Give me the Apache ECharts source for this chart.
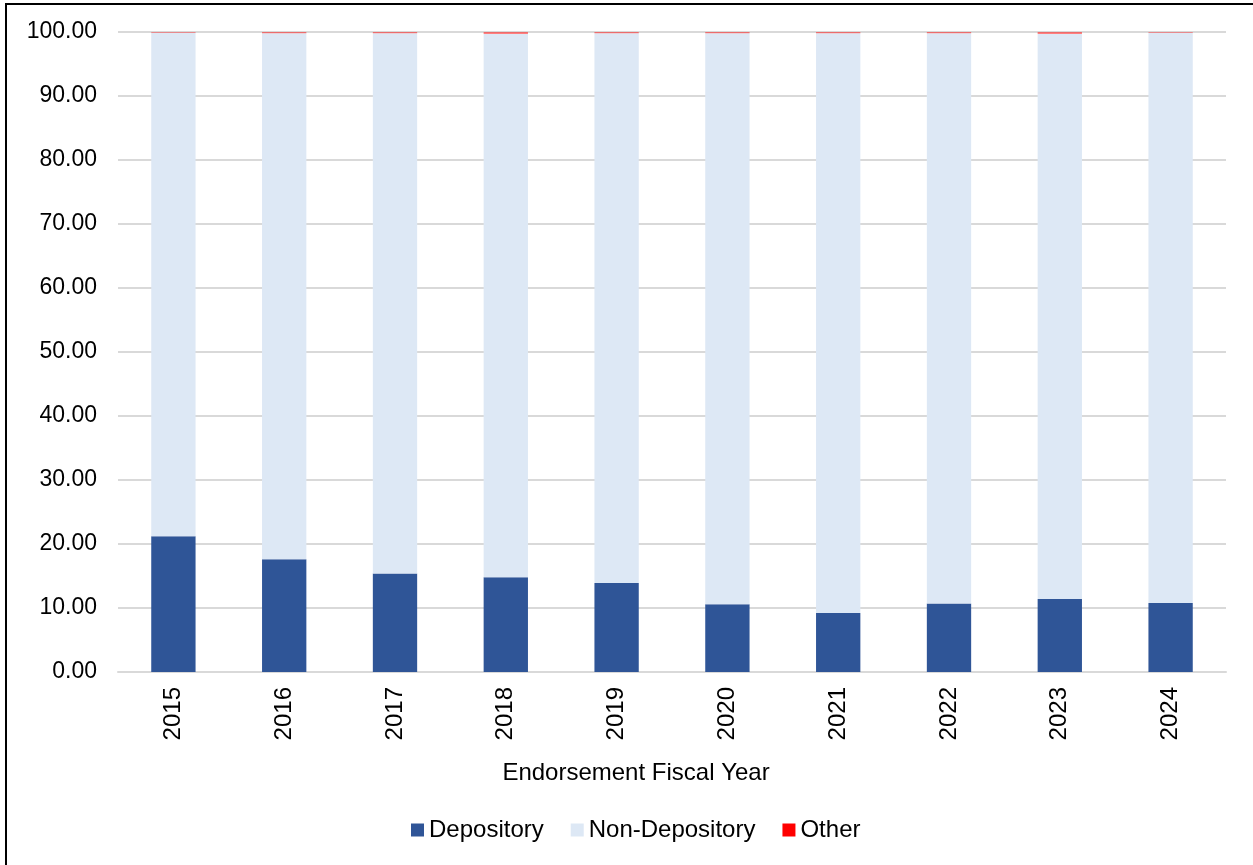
<!DOCTYPE html>
<html>
<head>
<meta charset="utf-8">
<script src="https://cdn.jsdelivr.net/npm/echarts@6/dist/echarts.min.js"></script>
<style>
  html, body { margin: 0; padding: 0; background: #fff; }
  #chart { width: 1253px; height: 865px; }
</style>
</head>
<body>
<div id="chart"></div>
<script>
// Share of endorsements by lender type, per fiscal year (percent)
const years = ['2015', '2016', '2017', '2018', '2019', '2020', '2021', '2022', '2023', '2024'];
const depository = [21.2, 17.6, 15.4, 14.8, 13.9, 10.6, 9.2, 10.7, 11.4, 10.8];
const other = [0.1, 0.2, 0.2, 0.3, 0.2, 0.2, 0.2, 0.2, 0.3, 0.1];
const nonDepository = [78.7, 82.2, 84.4, 84.9, 85.9, 89.2, 90.6, 89.1, 88.3, 89.1];
const yTicks = [0, 10, 20, 30, 40, 50, 60, 70, 80, 90, 100];

const FONT = '"Liberation Sans", Arial, sans-serif';
const chart = echarts.init(document.getElementById('chart'), null, { renderer: 'canvas' });

chart.setOption({
  animation: false,
  backgroundColor: '#ffffff',
  textStyle: { fontFamily: FONT },
  grid: { left: 118, right: 27, top: 32, bottom: 193, containLabel: false },
  graphic: [
    {
      type: 'rect',
      shape: { x: 6, y: 4, width: 1300, height: 900 },
      style: { fill: 'none', stroke: '#000000', lineWidth: 2 },
      silent: true
    },
    {
      type: 'text',
      x: 636,
      y: 773,
      style: {
        text: 'Endorsement Fiscal Year',
        font: '24px ' + FONT,
        fill: '#000000',
        align: 'center',
        verticalAlign: 'middle'
      }
    }
  ],
  legend: {
    bottom: 18,
    left: 406,
    itemWidth: 13,
    itemHeight: 13,
    itemGap: 27,
    icon: 'rect',
    textStyle: { fontSize: 24, color: '#000000', fontFamily: FONT },
    data: [
      { name: 'Depository' },
      { name: 'Non-Depository' },
      { name: 'Other', itemStyle: { color: '#ff0000', opacity: 1 } }
    ]
  },
  xAxis: {
    type: 'category',
    data: years,
    axisLine: { show: true, lineStyle: { color: '#d9d9d9', width: 2 } },
    axisTick: { show: false },
    axisLabel: {
      rotate: 90,
      fontSize: 24,
      color: '#000000',
      fontFamily: FONT,
      margin: 15
    }
  },
  yAxis: {
    type: 'value',
    min: yTicks[0],
    max: yTicks[yTicks.length - 1],
    interval: 10,
    axisLine: { show: false },
    axisTick: { show: false },
    splitLine: { lineStyle: { color: '#d9d9d9', width: 2 } },
    axisLabel: {
      fontSize: 23,
      color: '#000000',
      fontFamily: FONT,
      margin: 21,
      formatter: v => v.toFixed(2)
    }
  },
  series: [
    {
      name: 'Depository',
      type: 'bar',
      stack: 'total',
      barWidth: '40%',
      data: depository,
      itemStyle: { color: '#2f5597' }
    },
    {
      name: 'Non-Depository',
      type: 'bar',
      stack: 'total',
      barWidth: '40%',
      data: nonDepository,
      itemStyle: { color: '#dde8f5' }
    },
    {
      name: 'Other',
      type: 'bar',
      stack: 'total',
      barWidth: '40%',
      data: other,
      itemStyle: { color: '#ff0000', opacity: 0.5 }
    }
  ]
});
</script>
</body>
</html>
